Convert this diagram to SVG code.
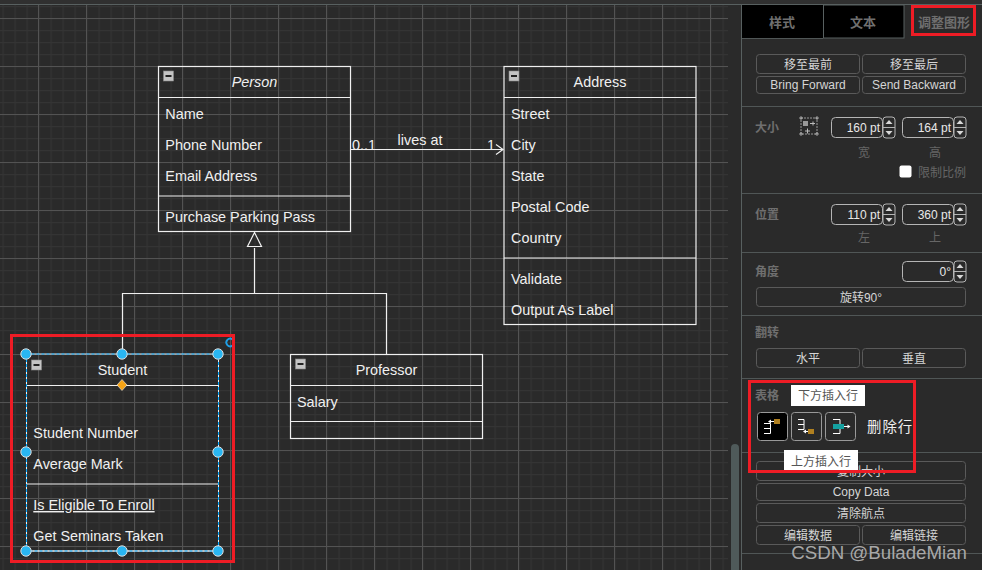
<svg xmlns="http://www.w3.org/2000/svg" width="982" height="570" viewBox="0 0 982 570">
<defs>
<pattern id="minor" width="12" height="12" patternUnits="userSpaceOnUse" x="2.500" y="6"><path d="M0 0V12M0 0H12" stroke="#343434" stroke-width="2.400" fill="none"/></pattern>
<pattern id="major" width="48" height="48" patternUnits="userSpaceOnUse" x="38" y="18"><path d="M.5 0V48M0 .5H48" stroke="#535353" stroke-width="1" fill="none"/></pattern>
<g id="fold"><rect x="0" y="0" width="10" height="10" fill="#c4c4c4" stroke="#8a8a8a" stroke-width=".6"/><rect x="2" y="4" width="6" height="2" fill="#222"/></g>
<g id="spin"><rect x="0" y="0" width="12" height="21" rx="3" fill="#2a2a2a" stroke="#b5b5b5"/><path d="M0 10.500H12" stroke="#b5b5b5"/><path d="M6 3 9.500 7H2.500ZM6 18 9.500 14H2.500Z" fill="#d8d8d8"/></g>
</defs>
<style>
text{font-family:"Liberation Sans","Noto Sans CJK SC",sans-serif;fill:#f0f0f0;font-size:14.400px}
.c{text-anchor:middle}
.cell{fill:none;stroke:#f0f0f0;stroke-width:1.200}
.sep{stroke:#f0f0f0;stroke-width:1.200;fill:none}
.conn{stroke:#f0f0f0;stroke-width:1.200;fill:none}
.p{font-size:12px;fill:#d5d5d5}
.lab{font-size:12px;fill:#6f6f6f;font-weight:bold}
.tab{font-size:13px;fill:#6f6f6f;font-weight:bold;text-anchor:middle}
.sub{font-size:12px;fill:#666}
.btn{fill:#2a2a2a;stroke:#5a5a5a;stroke-width:1}
.div{stroke:#505656;stroke-width:1}
.field{fill:#2a2a2a;stroke:#b5b5b5;stroke-width:1}
.handle{fill:#29b6f2;stroke:#ddd;stroke-width:1}
.red{fill:none;stroke:#ee1c25;stroke-width:3}
.num{font-size:12px;fill:#e8e8e8;text-anchor:end}
.tip{font-size:12px;fill:#555;text-anchor:middle}
.ico{stroke:#fff;fill:none}
</style>
<rect width="982" height="570" fill="#2a2a2a"/>
<rect x="0" y="4" width="728" height="566" fill="url(#minor)"/>
<rect x="0" y="4" width="728" height="566" fill="url(#major)"/>
<rect x="0" y="0" width="982" height="4" fill="#303030"/>
<path d="M0 4.500H982" stroke="#586060"/>
<rect x="731" y="444" width="8" height="130" rx="4" fill="#4f5a5a"/>

<g id="connectors">
<path class="conn" d="M351 149.500H503M496 144.500 503 149.500 496 154.500"/>
<path class="conn" d="M254.500 248V293.500M122.500 354V293.500H386.500V354"/>
<path class="conn" d="M254.500 232.500 261.500 246.500H247.500Z"/>
<text x="352" y="150">0..1</text>
<text x="420" y="145" class="c">lives at</text>
<text x="487" y="150">1</text>
</g>

<g id="person">
<rect class="cell" x="158.500" y="66.500" width="192" height="165"/>
<path class="sep" d="M158.500 97.500H350.500M158.500 196H350.500"/>
<use href="#fold" x="163.500" y="71"/>
<text x="254.500" y="87" class="c" font-style="italic">Person</text>
<text x="165.300" y="119">Name</text>
<text x="165.300" y="150">Phone Number</text>
<text x="165.300" y="181">Email Address</text>
<text x="165.300" y="222">Purchase Parking Pass</text>
</g>

<g id="address">
<rect class="cell" x="504" y="66.500" width="192" height="258"/>
<path class="sep" d="M504 97.500H696M504 258H696"/>
<use href="#fold" x="509" y="71"/>
<text x="600" y="87" class="c">Address</text>
<text x="511" y="119">Street</text>
<text x="511" y="150">City</text>
<text x="511" y="181">State</text>
<text x="511" y="212">Postal Code</text>
<text x="511" y="243">Country</text>
<text x="511" y="284">Validate</text>
<text x="511" y="315">Output As Label</text>
</g>

<g id="professor">
<rect class="cell" x="290.500" y="354.500" width="192" height="84"/>
<path class="sep" d="M290.500 385.500H482.500M290.500 421.500H482.500"/>
<use href="#fold" x="295.500" y="359"/>
<text x="386.500" y="375" class="c">Professor</text>
<text x="297" y="407">Salary</text>
</g>

<g id="student">
<path class="sep" d="M26.500 385.500H218.500M26.500 484H218.500M26.500 551H218.500"/>
<use href="#fold" x="31.500" y="360"/>
<text x="122.500" y="375" class="c">Student</text>
<text x="33.300" y="438">Student Number</text>
<text x="33.300" y="469">Average Mark</text>
<text x="33.300" y="510" text-decoration="underline">Is Eligible To Enroll</text>
<text x="33.300" y="541">Get Seminars Taken</text>
<rect x="26.500" y="354" width="192" height="197" fill="none" stroke="#f0f0f0" stroke-width="1"/>
<rect x="26.500" y="354" width="192" height="197" fill="none" stroke="#00a8ff" stroke-width="1" stroke-dasharray="3 2"/>
<circle class="handle" cx="26" cy="354" r="5.200"/><circle class="handle" cx="122" cy="354" r="5.200"/><circle class="handle" cx="218" cy="354" r="5.200"/>
<circle class="handle" cx="26" cy="452" r="5.200"/><circle class="handle" cx="218" cy="452" r="5.200"/>
<circle class="handle" cx="26" cy="551" r="5.200"/><circle class="handle" cx="122" cy="551" r="5.200"/><circle class="handle" cx="218" cy="551" r="5.200"/>
<path d="M122 379.500 127 385 122 390.500 117 385Z" fill="#f7a416" stroke="#eee" stroke-width=".6"/>
<path d="M232.500 339.500A3.800 3.800 0 1 0 232.500 345.500" fill="none" stroke="#1f9fe6" stroke-width="1.800"/>
</g>

<g id="panel">
<path d="M741.500 4V570" stroke="#586060"/>
<rect x="742" y="5" width="81" height="33" fill="#000"/>
<rect x="823.500" y="5" width="80.500" height="33" fill="#000" stroke="#586060"/>
<path class="div" d="M742 38.500H823"/>
<text x="782" y="27" class="tab">样式</text>
<text x="863" y="27" class="tab">文本</text>
<text x="944" y="27" class="tab">调整图形</text>
<rect class="red" x="912.500" y="6.500" width="62" height="28"/>

<rect class="btn" x="756.500" y="54.500" width="103" height="19" rx="3"/>
<rect class="btn" x="862.500" y="54.500" width="103" height="19" rx="3"/>
<rect class="btn" x="756.500" y="76.500" width="103" height="17" rx="3"/>
<rect class="btn" x="862.500" y="76.500" width="103" height="17" rx="3"/>
<text x="808" y="69" class="c p">移至最前</text>
<text x="914" y="69" class="c p">移至最后</text>
<text x="808" y="89" class="c p">Bring Forward</text>
<text x="914" y="89" class="c p">Send Backward</text>
<path class="div" d="M742 106.500H982"/>

<text x="755" y="132" class="lab">大小</text>
<rect x="801" y="118" width="16" height="16" fill="none" stroke="#999" stroke-dasharray="2 1"/>
<path d="M800 117h2v2h-2zM816 117h2v2h-2zM800 133h2v2h-2zM816 133h2v2h-2z" fill="none" stroke="#bbb" stroke-width=".8"/>
<rect x="803" y="121" width="5" height="5" fill="#999"/>
<path d="M810 123.500H815M805 131H810M807.500 128.500V133.500M813 121.500V125.500" stroke="#bbb" fill="none"/>
<rect class="field" x="831.500" y="117.500" width="51" height="20" rx="4"/>
<use href="#spin" x="883" y="117"/>
<text x="880" y="132" class="num">160 pt</text>
<rect class="field" x="902.500" y="117.500" width="51" height="20" rx="4"/>
<use href="#spin" x="954" y="117"/>
<text x="951" y="132" class="num">164 pt</text>
<text x="864" y="157" class="c sub">宽</text>
<text x="935" y="157" class="c sub">高</text>
<rect x="899.500" y="165.500" width="12" height="12" rx="2" fill="#fff"/>
<text x="918" y="177" class="sub">限制比例</text>
<path class="div" d="M742 193.500H982"/>

<text x="755" y="219" class="lab">位置</text>
<rect class="field" x="831.500" y="204.500" width="51" height="20" rx="4"/>
<use href="#spin" x="883" y="204"/>
<text x="880" y="219" class="num">110 pt</text>
<rect class="field" x="902.500" y="204.500" width="51" height="20" rx="4"/>
<use href="#spin" x="954" y="204"/>
<text x="951" y="219" class="num">360 pt</text>
<text x="864" y="242" class="c sub">左</text>
<text x="935" y="242" class="c sub">上</text>
<path class="div" d="M742 252.500H982"/>

<text x="755" y="276" class="lab">角度</text>
<rect class="field" x="902.500" y="261.500" width="51" height="20" rx="4"/>
<use href="#spin" x="954" y="261"/>
<text x="951" y="276" class="num">0°</text>
<rect class="btn" x="756.500" y="287.500" width="209" height="19" rx="3"/>
<text x="861" y="302" class="c p">旋转90°</text>
<path class="div" d="M742 315.500H982"/>

<text x="755" y="337" class="lab">翻转</text>
<rect class="btn" x="756.500" y="348.500" width="103" height="19" rx="3"/>
<rect class="btn" x="862.500" y="348.500" width="103" height="19" rx="3"/>
<text x="808" y="363" class="c p">水平</text>
<text x="914" y="363" class="c p">垂直</text>
<path class="div" d="M742 378.500H982M742 452.500H982"/>

<text x="755" y="400" class="lab">表格</text>
<rect class="btn" x="756.500" y="461.500" width="209" height="19" rx="3"/>
<text x="861" y="476" class="c p">复制大小</text>
<rect x="791" y="385" width="74" height="21" fill="#fff"/>
<text x="828" y="400" class="tip">下方插入行</text>

<rect x="757.500" y="412.500" width="30" height="28" rx="3" fill="#000" stroke="#999"/>
<rect x="791.500" y="412.500" width="30" height="28" rx="3" fill="#2a2a2a" stroke="#999"/>
<rect x="825.500" y="412.500" width="30" height="28" rx="3" fill="#2a2a2a" stroke="#999"/>
<path class="ico" d="M764 423.500H770.500V433.500H764M764 428.500H770.500M769 421.500H774"/>
<path d="M768 421.500 771 419.500V423.500Z" fill="#fff"/>
<rect x="774" y="419" width="6" height="5" fill="#b08020"/>
<path class="ico" d="M798 419.500H804V429.500H798M798 424.500H804M804 431.500H808"/>
<path d="M803 431.500 806 429.500V433.500Z" fill="#fff"/>
<rect x="808" y="429" width="6" height="5" fill="#b08020"/>
<path class="ico" d="M833 419.500H840V433.500H833"/>
<rect x="833" y="424" width="11" height="5" fill="#14a0a0"/>
<path class="ico" d="M844 426.500H849"/>
<path d="M850.500 426.500 847.500 424.500V428.500Z" fill="#fff"/>
<text x="867" y="432" style="letter-spacing:1px">删除行</text>
<rect x="784" y="450" width="74" height="21" fill="#fff"/>
<text x="821" y="466" class="tip">上方插入行</text>
<rect class="red" x="749.500" y="381.500" width="165" height="90"/>

<rect class="btn" x="756.500" y="483.500" width="209" height="17" rx="3"/>
<text x="861" y="496" class="c p">Copy Data</text>
<rect class="btn" x="756.500" y="503.500" width="209" height="19" rx="3"/>
<text x="861" y="518" class="c p">清除航点</text>
<rect class="btn" x="756.500" y="525.500" width="103" height="19" rx="3"/>
<rect class="btn" x="862.500" y="525.500" width="103" height="19" rx="3"/>
<text x="808" y="540" class="c p">编辑数据</text>
<text x="914" y="540" class="c p">编辑链接</text>
<path class="div" d="M742 553.500H982"/>
<text x="967" y="559" style="font-size:18.700px;fill:#a8a8a8;text-anchor:end">CSDN @BuladeMian</text>
</g>

<rect class="red" x="11.500" y="335.500" width="222" height="226"/>
</svg>
